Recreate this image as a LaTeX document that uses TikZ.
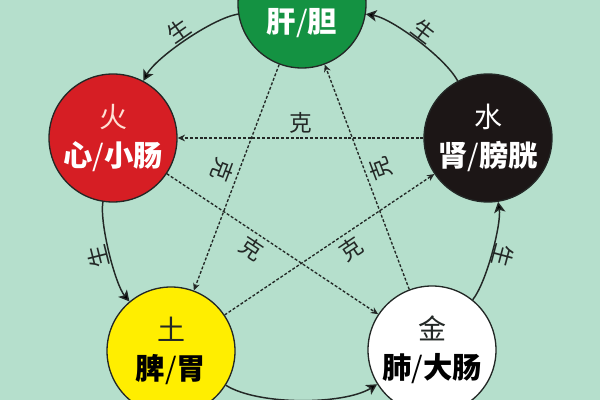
\documentclass[tikz,border=0pt]{standalone}
\usepackage{fontspec}
\setmainfont{Noto Sans CJK SC}
\usetikzlibrary{arrows.meta}
\definecolor{mint}{RGB}{181,223,204}
\definecolor{woodgreen}{RGB}{20,146,66}
\definecolor{firered}{RGB}{214,30,36}
\definecolor{firepink}{RGB}{255,224,212}
\definecolor{waterblack}{RGB}{28,22,22}
\definecolor{earthyellow}{RGB}{255,238,0}
\definecolor{inkdark}{RGB}{35,40,38}
\newcommand{\elemtext}[1]{{\fontsize{21}{29}\selectfont #1}}
\begin{document}
\begin{tikzpicture}[x=0.75pt, y=0.75pt,
    main node/.style={circle, draw=inkdark, line width=1pt, minimum size=96pt, inner sep=0pt, align=center, font=\fontsize{22}{29}\selectfont},
    sheng/.style={draw=inkdark, line width=1.1pt, -{Stealth[length=8pt, width=8.5pt, inset=2pt]}},
    ke/.style={draw=inkdark, line width=1pt, dash pattern=on 2.2pt off 1.4pt, -{Stealth[length=5.5pt, width=5pt]}}]
        \tikzstyle{every node}=[font=\fontsize{17}{20}\selectfont, text=inkdark]

          \fill[mint] (0,0) rectangle (600,400);
          \useasboundingbox (0,0) rectangle (600,400);

          \node[main node, fill=woodgreen, text=white] (1) at (302,396) {\elemtext{木}\\\textbf{肝}/\textbf{胆}};
          \node[main node, fill=firered, text=white] (2) at (113,262) {\elemtext{\color{firepink}火}\\\textbf{心}/\textbf{小肠}};
          \node[main node, fill=earthyellow, text=black] (3) at (171,49) {\elemtext{\color{inkdark}土}\\\textbf{脾}/\textbf{胃}};
          \node[main node, fill=white, text=black] (4) at (432,50) {\elemtext{\color{inkdark}金}\\\textbf{肺}/\textbf{大肠}};
          \node[main node, fill=waterblack, text=white] (5) at (488,262) {\elemtext{水}\\\textbf{肾}/\textbf{膀胱}};

          \path[sheng]
            (1) edge[out=189, in=62, distance=19.7pt] node[rotate=35, anchor=south, inner sep=1pt] {生} (2)
            (2) edge[out=261, in=130, distance=16.5pt] node[rotate=104, anchor=south, inner sep=1pt] {生} (3)
            (3) edge[out=328, in=212, distance=29pt] (4)
            (4) edge[out=51, in=279, distance=16.5pt] node[rotate=-105, anchor=south, inner sep=1pt] {生} (5)
            (5) edge[out=118, in=-9, distance=19.7pt] node[rotate=-37, anchor=south, inner sep=1pt] {生} (1);

          \path[ke]
            (1) edge node[sloped, allow upside down, below, pos=0.49] {克} (3)
            (3) edge node[sloped, allow upside down, below, pos=0.56] {克} (5)
            (5) edge node[above] {克} (2)
            (2) edge node[sloped, allow upside down, below, pos=0.44] {克} (4)
            (4) edge node[sloped, allow upside down, below, pos=0.51] {克} (1);

        \end{tikzpicture}
\end{document}
